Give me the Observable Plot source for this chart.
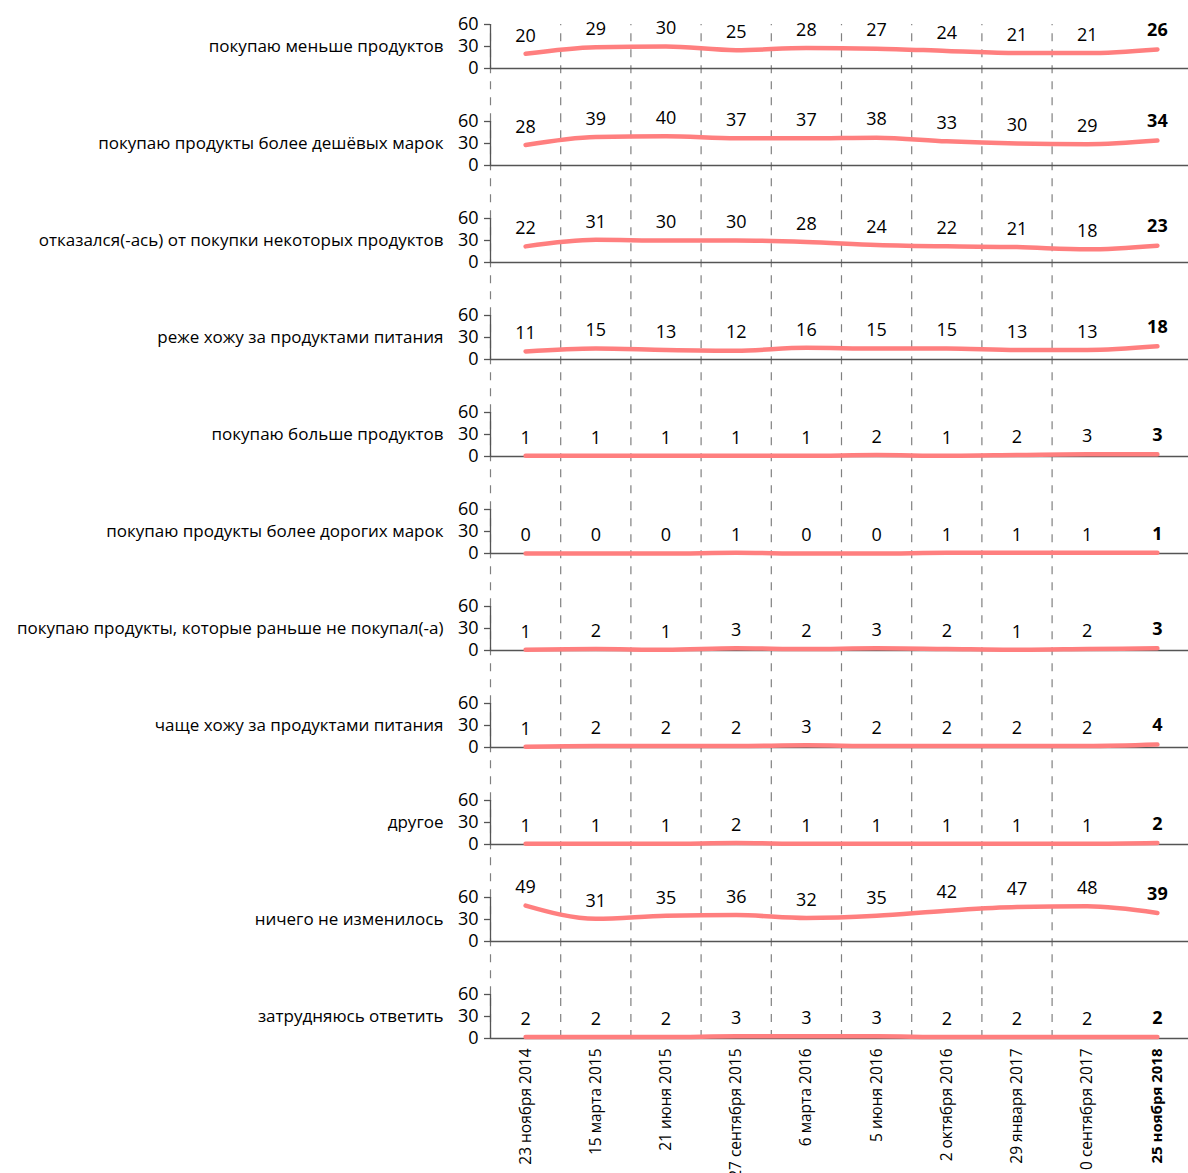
<!DOCTYPE html>
<html>
<head>
<meta charset="utf-8">
<script src="https://cdn.jsdelivr.net/npm/d3@7"></script>
<script src="https://cdn.jsdelivr.net/npm/@observablehq/plot@0.6"></script>
<style>
  html, body { margin: 0; padding: 0; background: #fff; }
  #chart { width: 1188px; }
</style>
</head>
<body>
<div id="chart"></div>
<script>
const dates = [
  "23 ноября 2014", "15 марта 2015", "21 июня 2015", "27 сентября 2015", "6 марта 2016",
  "5 июня 2016", "2 октября 2016", "29 января 2017", "10 сентября 2017", "25 ноября 2018"
];
const rows = [
  "покупаю меньше продуктов",
  "покупаю продукты более дешёвых марок",
  "отказался(-ась) от покупки некоторых продуктов",
  "реже хожу за продуктами питания",
  "покупаю больше продуктов",
  "покупаю продукты более дорогих марок",
  "покупаю продукты, которые раньше не покупал(-а)",
  "чаще хожу за продуктами питания",
  "другое",
  "ничего не изменилось",
  "затрудняюсь ответить"
];
const buyLess      = [20, 29, 30, 25, 28, 27, 24, 21, 21, 26];
const cheaper      = [28, 39, 40, 37, 37, 38, 33, 30, 29, 34];
const refused      = [22, 31, 30, 30, 28, 24, 22, 21, 18, 23];
const lessOften    = [11, 15, 13, 12, 16, 15, 15, 13, 13, 18];
const buyMore      = [1, 1, 1, 1, 1, 2, 1, 2, 3, 3];
const expensive    = [0, 0, 0, 1, 0, 0, 1, 1, 1, 1];
const newProducts  = [1, 2, 1, 3, 2, 3, 2, 1, 2, 3];
const moreOften    = [1, 2, 2, 2, 3, 2, 2, 2, 2, 4];
const other        = [1, 1, 1, 2, 1, 1, 1, 1, 1, 2];
const nothing      = [49, 31, 35, 36, 32, 35, 42, 47, 48, 39];
const hardToSay    = [2, 2, 2, 3, 3, 3, 2, 2, 2, 2];
const yTicks = [0, 30, 60];

const series = [buyLess, cheaper, refused, lessOften, buyMore, expensive, newProducts, moreOften, other, nothing, hardToSay];

const data = [];
series.forEach((vals, r) => vals.forEach((v, i) => data.push({row: rows[r], i, value: v, last: i === dates.length - 1})));

// layout constants (styling)
const W = 1188, H = 1173;
const mTop = 23, mBottom = 134, mLeft = 490, mRight = -4;
const bandInner = 44;                       // px height of each facet
const step = (H - mTop - mBottom - bandInner) / (rows.length - 1);
const padInner = 1 - bandInner / step;
const gapUnits = (step - bandInner) * 60 / bandInner;
const pxPerX = (W - mLeft - mRight) / dates.length;
const tickLen = 6 / pxPerX;
const x0 = -0.5;

// dashed separators between survey waves
const grid = [];
rows.forEach((row, r) => {
  for (let k = 0; k < dates.length - 1; k++) {
    grid.push({row, x: k - 0.5, y1: r === rows.length - 1 ? 0 : -gapUnits});
  }
});
const dateLabels = dates.map((d, i) => ({row: rows[rows.length - 1], i, label: d, last: i === dates.length - 1}));
const rowLabels = rows.map(row => ({row}));
const tickData = rows.flatMap(row => yTicks.map(t => ({row, t})));

const font = "'Open Sans', 'Noto Sans', sans-serif";

const chart = Plot.plot({
  width: W,
  height: H,
  marginTop: mTop,
  marginBottom: mBottom,
  marginLeft: mLeft,
  marginRight: mRight,
  style: {fontFamily: font, fontSize: "18px", color: "#000", background: "#fff"},
  x: {type: "linear", domain: [x0, dates.length - 0.5], axis: null},
  y: {type: "linear", domain: [0, 60], axis: null},
  fy: {domain: rows, axis: null, paddingInner: padInner, paddingOuter: 0, label: null},
  marks: [
    Plot.ruleX(grid, {x: "x", fy: "row", y1: "y1", y2: 60, stroke: "#808080", strokeWidth: 1.2, strokeDasharray: "8,8"}),
    Plot.ruleY(rowLabels, {y: 0, fy: "row", stroke: "#555", strokeWidth: 1.3}),
    Plot.ruleX(rowLabels, {x: x0, y1: 0, y2: 60, fy: "row", stroke: "#555", strokeWidth: 1.3}),
    Plot.ruleY(tickData, {y: "t", fy: "row", x1: x0 - tickLen, x2: x0, stroke: "#555", strokeWidth: 1.3}),
    Plot.text(tickData, {y: "t", fy: "row", x: x0, dx: -12, text: d => String(d.t), textAnchor: "end", fontSize: 18, fill: "#000"}),
    Plot.line(data, {x: "i", y: "value", fy: "row", stroke: "#ff7f7f", strokeWidth: 4.5, strokeLinecap: "round", curve: "monotone-x"}),
    Plot.text(data.filter(d => !d.last), {x: "i", y: "value", fy: "row", text: d => String(d.value), dy: -18, fontSize: 18, fill: "#000"}),
    Plot.text(data.filter(d => d.last), {x: "i", y: "value", fy: "row", text: d => String(d.value), dy: -19, fontSize: 18, fill: "#000", fontWeight: "bold"}),
    Plot.text(rowLabels, {fy: "row", y: 30, frameAnchor: "left", dx: -47, textAnchor: "end", text: "row", fontSize: 17, fill: "#000"}),
    Plot.text(dateLabels.filter(d => !d.last), {fy: "row", x: "i", y: 0, dy: 10, rotate: -90, textAnchor: "end", text: "label", fontSize: 15.5, fill: "#000"}),
    Plot.text(dateLabels.filter(d => d.last), {fy: "row", x: "i", y: 0, dy: 10, rotate: -90, textAnchor: "end", text: "label", fontSize: 15, fill: "#000", fontWeight: "bold"})
  ]
});
document.getElementById("chart").appendChild(chart);
</script>
</body>
</html>
